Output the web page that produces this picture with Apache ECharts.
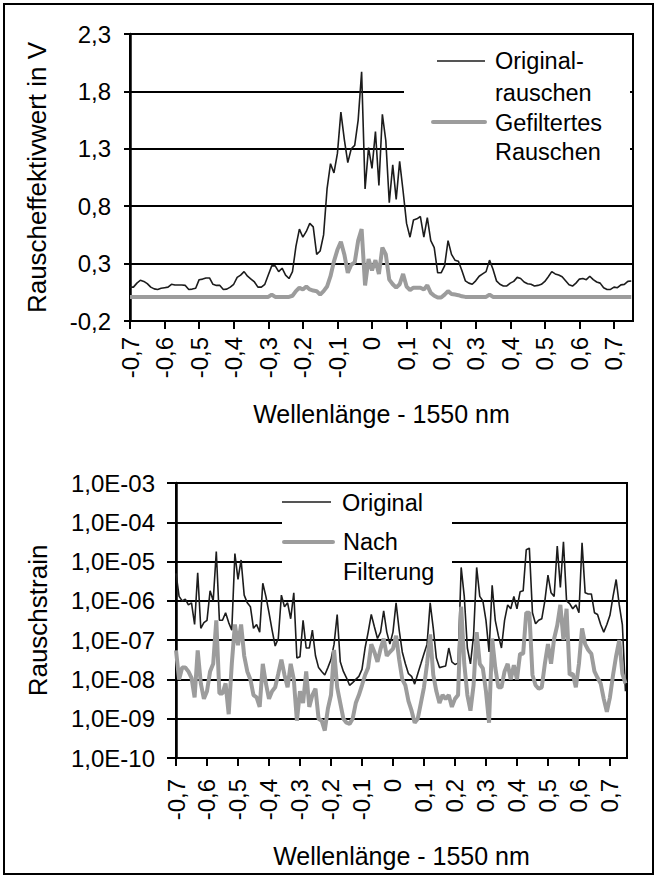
<!DOCTYPE html>
<html>
<head>
<meta charset="utf-8">
<title>Rauschen</title>
<script src="https://cdn.jsdelivr.net/npm/echarts@6/dist/echarts.min.js"></script>
<style>
  html, body { margin: 0; padding: 0; background: #fff; }
  #frame { position: absolute; left: 3px; top: 3px; width: 647px; height: 868px; border: 2px solid #000; }
  #chart { position: absolute; left: 0; top: 0; width: 657px; height: 878px; }
</style>
</head>
<body>
<div id="frame"></div>
<div id="chart"></div>
<script>
// wavelength offset from 1550 nm, one sample every 0.01 nm
const xStart = -0.70;
const xStep = 0.01;

// upper chart: RMS noise in V
const rauschenOriginal = [
  0.095, 0.095, 0.13, 0.155, 0.145, 0.125, 0.095, 0.08, 0.075, 0.085,
  0.09, 0.095, 0.12, 0.113, 0.113, 0.113, 0.11, 0.075, 0.078, 0.085,
  0.16, 0.165, 0.175, 0.175, 0.12, 0.11, 0.11, 0.075, 0.078, 0.095,
  0.12, 0.18, 0.2, 0.23, 0.19, 0.165, 0.14, 0.095, 0.095, 0.12,
  0.2, 0.28, 0.28, 0.23, 0.26, 0.2, 0.17, 0.23, 0.45, 0.6,
  0.53, 0.58, 0.65, 0.62, 0.38, 0.41, 0.55, 0.95, 1.17, 1.09,
  1.26, 1.62, 1.38, 1.18, 1.3, 1.33, 1.55, 1.97, 0.95, 1.31,
  1.13, 1.45, 0.98, 1.6, 1.37, 0.83, 1.16, 0.86, 1.19, 0.93,
  0.65, 0.53, 0.68, 0.69, 0.71, 0.53, 0.7, 0.5, 0.44, 0.22,
  0.22, 0.28, 0.5, 0.38, 0.33, 0.32, 0.24, 0.15, 0.13, 0.12,
  0.15, 0.19, 0.21, 0.23, 0.33, 0.25, 0.15, 0.12, 0.105, 0.105,
  0.13, 0.145, 0.18, 0.17, 0.14, 0.125, 0.12, 0.105, 0.11, 0.12,
  0.145, 0.185, 0.23, 0.21, 0.2, 0.185, 0.15, 0.115, 0.104, 0.13,
  0.165, 0.17, 0.16, 0.19, 0.16, 0.14, 0.13, 0.09, 0.075, 0.075,
  0.095, 0.09, 0.115, 0.119, 0.145, 0.148
];
const rauschenGefiltert = [
  0.01, 0.01, 0.01, 0.01, 0.01, 0.01, 0.01, 0.01, 0.01, 0.01,
  0.01, 0.01, 0.01, 0.01, 0.01, 0.01, 0.01, 0.01, 0.01, 0.01,
  0.01, 0.01, 0.01, 0.01, 0.01, 0.01, 0.01, 0.01, 0.01, 0.01,
  0.01, 0.01, 0.01, 0.01, 0.01, 0.01, 0.01, 0.01, 0.01, 0.01,
  0.01, 0.03, 0.01, 0.01, 0.01, 0.01, 0.01, 0.02, 0.06, 0.09,
  0.075, 0.1, 0.075, 0.065, 0.06, 0.03, 0.06, 0.1, 0.19, 0.32,
  0.42, 0.49, 0.38, 0.22, 0.29, 0.31, 0.5, 0.6, 0.11, 0.34,
  0.24, 0.33, 0.21, 0.44, 0.38, 0.16, 0.12, 0.09, 0.12, 0.21,
  0.1, 0.07, 0.09, 0.09, 0.09, 0.075, 0.11, 0.045, 0.02, 0.005,
  0.005, 0.03, 0.06, 0.035, 0.03, 0.025, 0.015, 0.01, 0.01, 0.01,
  0.01, 0.01, 0.01, 0.01, 0.03, 0.01, 0.01, 0.01, 0.01, 0.01,
  0.01, 0.01, 0.01, 0.01, 0.01, 0.01, 0.01, 0.01, 0.01, 0.01,
  0.01, 0.01, 0.01, 0.01, 0.01, 0.01, 0.01, 0.01, 0.01, 0.01,
  0.01, 0.01, 0.01, 0.01, 0.01, 0.01, 0.01, 0.01, 0.01, 0.01,
  0.01, 0.01, 0.01, 0.01, 0.01, 0.01
];

// lower chart: noise strain (log scale)
const strainOriginal = [
  5.0e-6, 1.3e-6, 1.0e-6, 1.1e-6, 7.9e-7, 8.9e-7, 2.5e-7, 5.2e-6, 2.0e-7, 2.8e-7,
  3.2e-7, 1.8e-6, 1.0e-6, 1.8e-5, 3.2e-7, 3.2e-7, 5.0e-7, 2.8e-7, 1.8e-7, 1.6e-5,
  3.5e-6, 1.1e-5, 1.4e-6, 8.9e-7, 7.1e-7, 2.0e-7, 2.5e-7, 1.6e-7, 2.8e-6, 1.3e-6,
  5.0e-7, 1.8e-7, 7.1e-8, 1.1e-7, 1.4e-6, 7.1e-7, 8.9e-7, 3.5e-7, 1.6e-6, 3.5e-8,
  3.8e-8, 3.2e-7, 6.3e-8, 6.3e-8, 1.8e-7, 4.0e-8, 2.0e-8, 1.6e-8, 1.3e-8, 2.0e-8,
  3.2e-8, 7.9e-8, 4.5e-7, 2.8e-8, 1.6e-8, 1.1e-8, 7.1e-9, 8.3e-9, 1.0e-8, 1.2e-8,
  1.8e-8, 6.3e-8, 1.6e-7, 4.5e-7, 2.2e-7, 1.1e-7, 1.6e-7, 5.6e-7, 1.6e-7, 7.9e-8,
  1.6e-7, 8.9e-7, 1.8e-7, 5.0e-8, 2.5e-8, 1.4e-8, 1.2e-8, 7.6e-9, 1.4e-8, 2.5e-8,
  4.5e-8, 7.9e-8, 8.9e-7, 2.0e-7, 3.5e-8, 2.0e-8, 2.1e-8, 2.2e-8, 6.3e-8, 2.8e-8,
  2.4e-8, 2.6e-8, 7.1e-6, 1.3e-6, 6.3e-8, 2.5e-8, 1.3e-7, 7.1e-6, 1.3e-6, 1.0e-6,
  3.2e-7, 5.0e-8, 2.5e-6, 3.2e-7, 1.3e-7, 6.3e-8, 3.2e-7, 7.9e-7, 6.3e-7, 1.3e-6,
  6.3e-7, 1.7e-6, 1.8e-6, 2.0e-5, 2.2e-5, 5.0e-7, 2.6e-7, 3.2e-7, 3.5e-7, 1.0e-6,
  4.5e-6, 1.6e-6, 1.3e-6, 2.5e-5, 2.2e-6, 3.2e-5, 1.0e-6, 8.5e-7, 6.3e-7, 7.9e-7,
  5.0e-7, 3.0e-5, 1.6e-6, 1.5e-6, 1.5e-6, 5.0e-7, 4.5e-7, 2.5e-7, 1.6e-7, 2.5e-7,
  4.3e-7, 1.3e-6, 3.5e-6, 7.9e-7, 2.5e-7, 5.0e-9
];
const strainGefiltert = [
  5.5e-8, 1.0e-8, 2.0e-8, 2.0e-8, 1.6e-8, 1.1e-8, 3.5e-9, 5.5e-8, 7.9e-9, 3.2e-9,
  5.0e-9, 1.6e-8, 2.5e-8, 3.2e-7, 4.4e-9, 4.4e-9, 7.9e-9, 1.3e-9, 2.5e-8, 2.5e-7,
  7.4e-8, 2.5e-7, 4.0e-8, 1.6e-8, 1.0e-8, 4.0e-9, 3.5e-9, 2.0e-9, 2.5e-8, 7.9e-9,
  3.2e-9, 5.0e-9, 6.3e-9, 1.4e-8, 3.2e-8, 1.3e-8, 6.3e-9, 2.5e-8, 1.0e-8, 8.9e-10,
  5.0e-9, 2.5e-9, 1.6e-8, 2.0e-9, 4.0e-9, 5.8e-9, 1.0e-9, 8.9e-10, 5.0e-10, 1.8e-9,
  4.0e-9, 5.6e-8, 6.3e-9, 2.5e-9, 1.0e-9, 7.9e-10, 7.4e-10, 1.0e-9, 2.5e-9, 4.0e-9,
  7.1e-9, 1.3e-8, 2.0e-8, 7.9e-8, 5.0e-8, 2.8e-8, 6.0e-8, 1.1e-7, 4.0e-8, 5.0e-8,
  6.0e-8, 1.3e-7, 3.2e-8, 1.0e-8, 7.1e-9, 2.8e-9, 1.6e-9, 7.9e-10, 1.0e-9, 2.5e-9,
  6.3e-9, 2.5e-8, 1.4e-7, 1.3e-8, 5.0e-9, 2.5e-9, 4.0e-9, 3.2e-9, 4.0e-9, 2.0e-9,
  3.2e-9, 4.0e-9, 7.1e-7, 2.5e-8, 4.0e-9, 1.6e-9, 7.1e-9, 1.6e-7, 2.5e-8, 1.9e-8,
  5.0e-9, 7.9e-10, 1.1e-7, 2.0e-8, 6.3e-9, 6.3e-9, 1.6e-8, 2.5e-8, 1.0e-8, 2.3e-8,
  1.0e-8, 4.5e-8, 4.5e-8, 5.0e-7, 5.0e-7, 1.3e-8, 7.1e-9, 5.8e-9, 6.3e-9, 2.5e-8,
  7.9e-8, 2.5e-8, 1.1e-7, 2.4e-7, 7.9e-7, 1.0e-7, 6.3e-7, 1.3e-8, 1.4e-8, 6.3e-9,
  2.5e-8, 2.0e-7, 7.9e-8, 5.6e-8, 4.5e-8, 1.6e-8, 1.1e-8, 7.9e-9, 3.2e-9, 1.5e-9,
  3.5e-9, 1.3e-8, 4.0e-8, 1.0e-7, 1.4e-8, 7.9e-9
];

const FONT = "'Liberation Sans', Arial, sans-serif";
const BLACK = '#1c1c1c';
const GRAY = '#9c9c9c';

const wl = rauschenOriginal.map((_, i) => +(xStart + i * xStep).toFixed(2));
const pairs = arr => arr.map((v, i) => [wl[i], v]);

const xLabel = v => {
  if (Math.abs(v * 10 - Math.round(v * 10)) > 1e-6) return '';
  if (Math.abs(v) < 1e-9) return '0';
  return v.toFixed(1).replace('.', ',');
};

function xAxisOpt(gridIndex, margin, nameGap) {
  return {
    type: 'value', gridIndex: gridIndex, min: -0.7, max: 0.755, interval: 0.1,
    name: 'Wellenlänge - 1550 nm', nameLocation: 'middle', nameGap: nameGap,
    nameTextStyle: { fontFamily: FONT, fontSize: 25, color: '#000' },
    axisLine: { show: true, onZero: false, lineStyle: { color: '#000', width: 2 } },
    axisTick: { show: true, length: 8, lineStyle: { color: '#000', width: 2 } },
    axisLabel: { rotate: 90, margin: margin, formatter: xLabel, showMaxLabel: false,
                 fontFamily: FONT, fontSize: 24, color: '#000' },
    splitLine: { show: false }
  };
}

const chart = echarts.init(document.getElementById('chart'), null, { renderer: 'svg' });

chart.setOption({
  backgroundColor: 'transparent',
  animation: false,
  grid: [
    { left: 130, right: 24, top: 34, height: 287, show: true, borderColor: '#000', borderWidth: 2 },
    { left: 176, right: 30, top: 483, height: 275, show: true, borderColor: '#000', borderWidth: 2 }
  ],
  xAxis: [xAxisOpt(0, 16, 80), xAxisOpt(1, 21, 85)],
  yAxis: [
    {
      type: 'value', gridIndex: 0, min: -0.2, max: 2.3, interval: 0.5,
      name: 'Rauscheffektivwert in V', nameLocation: 'middle', nameGap: 80, nameRotate: 90,
      nameTextStyle: { fontFamily: FONT, fontSize: 26, color: '#000' },
      axisLine: { show: true, onZero: false, lineStyle: { color: '#000', width: 2.5 } },
      axisTick: { show: true, length: 6, lineStyle: { color: '#000', width: 2 } },
      axisLabel: { margin: 19, formatter: v => v.toFixed(1).replace('.', ','),
                   fontFamily: FONT, fontSize: 24, color: '#000' },
      splitLine: { show: true, lineStyle: { color: '#000', width: 2 } }
    },
    {
      type: 'log', gridIndex: 1, logBase: 10, min: 1e-10, max: 1e-3,
      name: 'Rauschstrain', nameLocation: 'middle', nameGap: 125, nameRotate: 90,
      nameTextStyle: { fontFamily: FONT, fontSize: 26, color: '#000' },
      axisLine: { show: true, onZero: false, lineStyle: { color: '#000', width: 2.5 } },
      axisTick: { show: true, length: 9, lineStyle: { color: '#000', width: 2 } },
      axisLabel: {
        margin: 21,
        formatter: v => '1,0E-' + String(-Math.round(Math.log10(v))).padStart(2, '0'),
        fontFamily: FONT, fontSize: 24, color: '#000'
      },
      splitLine: { show: true, lineStyle: { color: '#000', width: 2 } }
    }
  ],
  series: [
    { name: 'Originalrauschen', type: 'line', xAxisIndex: 0, yAxisIndex: 0, data: pairs(rauschenOriginal),
      symbol: 'none', lineStyle: { color: BLACK, width: 1.6 }, z: 3 },
    { name: 'Gefiltertes Rauschen', type: 'line', xAxisIndex: 0, yAxisIndex: 0, data: pairs(rauschenGefiltert),
      symbol: 'none', lineStyle: { color: GRAY, width: 4 }, z: 4 },
    { name: 'Original', type: 'line', xAxisIndex: 1, yAxisIndex: 1, data: pairs(strainOriginal),
      symbol: 'none', lineStyle: { color: BLACK, width: 1.6 }, z: 3 },
    { name: 'Nach Filterung', type: 'line', xAxisIndex: 1, yAxisIndex: 1, data: pairs(strainGefiltert),
      symbol: 'none', lineStyle: { color: GRAY, width: 4 }, z: 4 }
  ],
  // legends drawn by hand so the key line sits on the first text line, like the original
  graphic: [
    { type: 'rect', z: 1, shape: { x: 404, y: 36, width: 226, height: 128 }, style: { fill: '#fff' } },
    { type: 'line', z: 10, shape: { x1: 437, y1: 61, x2: 485, y2: 61 }, style: { stroke: BLACK, lineWidth: 1.6 } },
    { type: 'line', z: 10, shape: { x1: 433, y1: 122, x2: 485, y2: 122 }, style: { stroke: GRAY, lineWidth: 4, lineCap: 'round' } },
    { type: 'text', z: 10, x: 495, y: 61, style: { text: 'Original-', fontFamily: FONT, fontSize: 23.5, fill: '#000', verticalAlign: 'middle' } },
    { type: 'text', z: 10, x: 495, y: 93, style: { text: 'rauschen', fontFamily: FONT, fontSize: 23.5, fill: '#000', verticalAlign: 'middle' } },
    { type: 'text', z: 10, x: 495, y: 123, style: { text: 'Gefiltertes', fontFamily: FONT, fontSize: 23.5, fill: '#000', verticalAlign: 'middle' } },
    { type: 'text', z: 10, x: 495, y: 152, style: { text: 'Rauschen', fontFamily: FONT, fontSize: 23.5, fill: '#000', verticalAlign: 'middle' } },

    { type: 'rect', z: 1, shape: { x: 282, y: 485, width: 170, height: 105 }, style: { fill: '#fff' } },
    { type: 'line', z: 10, shape: { x1: 282, y1: 502, x2: 331, y2: 502 }, style: { stroke: BLACK, lineWidth: 1.6 } },
    { type: 'line', z: 10, shape: { x1: 284, y1: 542, x2: 333, y2: 542 }, style: { stroke: GRAY, lineWidth: 4, lineCap: 'round' } },
    { type: 'text', z: 10, x: 342, y: 503, style: { text: 'Original', fontFamily: FONT, fontSize: 23.5, fill: '#000', verticalAlign: 'middle' } },
    { type: 'text', z: 10, x: 343, y: 542, style: { text: 'Nach', fontFamily: FONT, fontSize: 23.5, fill: '#000', verticalAlign: 'middle' } },
    { type: 'text', z: 10, x: 343, y: 572, style: { text: 'Filterung', fontFamily: FONT, fontSize: 23.5, fill: '#000', verticalAlign: 'middle' } }
  ]
});
</script>
</body>
</html>
